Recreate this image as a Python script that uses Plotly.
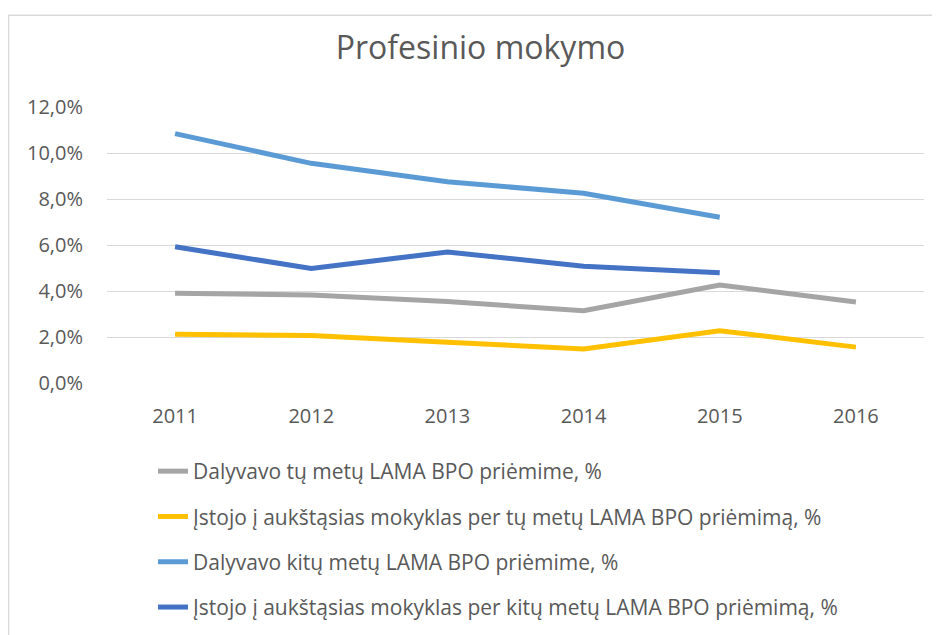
import plotly.graph_objects as go

years = ["2011", "2012", "2013", "2014", "2015", "2016"]
names = [
    "Dalyvavo tų metų LAMA BPO priėmime, %",
    "Įstojo į aukštąsias mokyklas per tų metų LAMA BPO priėmimą, %",
    "Dalyvavo kitų metų LAMA BPO priėmime, %",
    "Įstojo į aukštąsias mokyklas per kitų metų LAMA BPO priėmimą, %",
]
dalyvavo_tu = [3.90, 3.83, 3.54, 3.14, 4.26, 3.52]
istojo_tu = [2.12, 2.06, 1.77, 1.48, 2.27, 1.56]
dalyvavo_kitu = [10.84, 9.55, 8.75, 8.25, 7.21, None]
istojo_kitu = [5.92, 4.98, 5.70, 5.08, 4.79, None]
colors = ["#A5A5A5", "#FFC000", "#5B9BD5", "#4472C4"]
series = [dalyvavo_tu, istojo_tu, dalyvavo_kitu, istojo_kitu]

FONT = "Open Sans"
TXT = "#595959"

fig = go.Figure()
for i, (n, s, c) in enumerate(zip(names, series, colors)):
    fig.add_trace(go.Scatter(
        x=years, y=s, name=n, mode="lines",
        line=dict(color=c, width=5),
        legendgroup=f"g{i}",
    ))

# page has an 8px body margin; coordinates below are inside the figure div
W, H = 924, 627
L, R, T, B = 99, 8, 99, 251
pw = W - L - R
ph = H - T - B
bottom = T + ph

fig.update_layout(
    width=W, height=H,
    margin=dict(l=L, r=R, t=T, b=B),
    paper_bgcolor="white", plot_bgcolor="white",
    separators=", ",
    font=dict(family=FONT, color=TXT, size=20),
    title=dict(text="Profesinio mokymo", x=472.5 / W, xanchor="center",
               y=1 - 40 / H, yanchor="middle",
               font=dict(family=FONT, size=32, color=TXT)),
    showlegend=True,
    legend=dict(
        x=(145 - L) / pw, xanchor="left",
        y=-(443 - bottom) / ph, yanchor="top",
        traceorder="grouped", tracegroupgap=15,
        font=dict(family=FONT, size=21, color=TXT),
        bgcolor="rgba(0,0,0,0)",
    ),
    xaxis=dict(
        type="category", range=[-0.5, 5.5],
        showgrid=False, zeroline=False, showline=False,
        ticks="", ticklabelstandoff=19,
        tickfont=dict(family=FONT, size=20, color=TXT),
    ),
    yaxis=dict(
        range=[0, 12], dtick=2, tick0=0, tickformat=".1f", ticksuffix="%",
        showgrid=True, gridcolor="#D9D9D9", gridwidth=1,
        zeroline=False, showline=False, ticks="", ticklabelstandoff=23,
        tickfont=dict(family=FONT, size=20, color=TXT),
    ),
    shapes=[dict(
        type="rect", xref="paper", yref="paper",
        x0=(0.5 - L) / pw, x1=(980 - L) / pw,
        y0=-(700 - bottom) / ph, y1=(bottom - 7) / ph,
        line=dict(color="#D9D9D9", width=1.5), layer="below",
    )],
)

fig.write_html("out.html")
